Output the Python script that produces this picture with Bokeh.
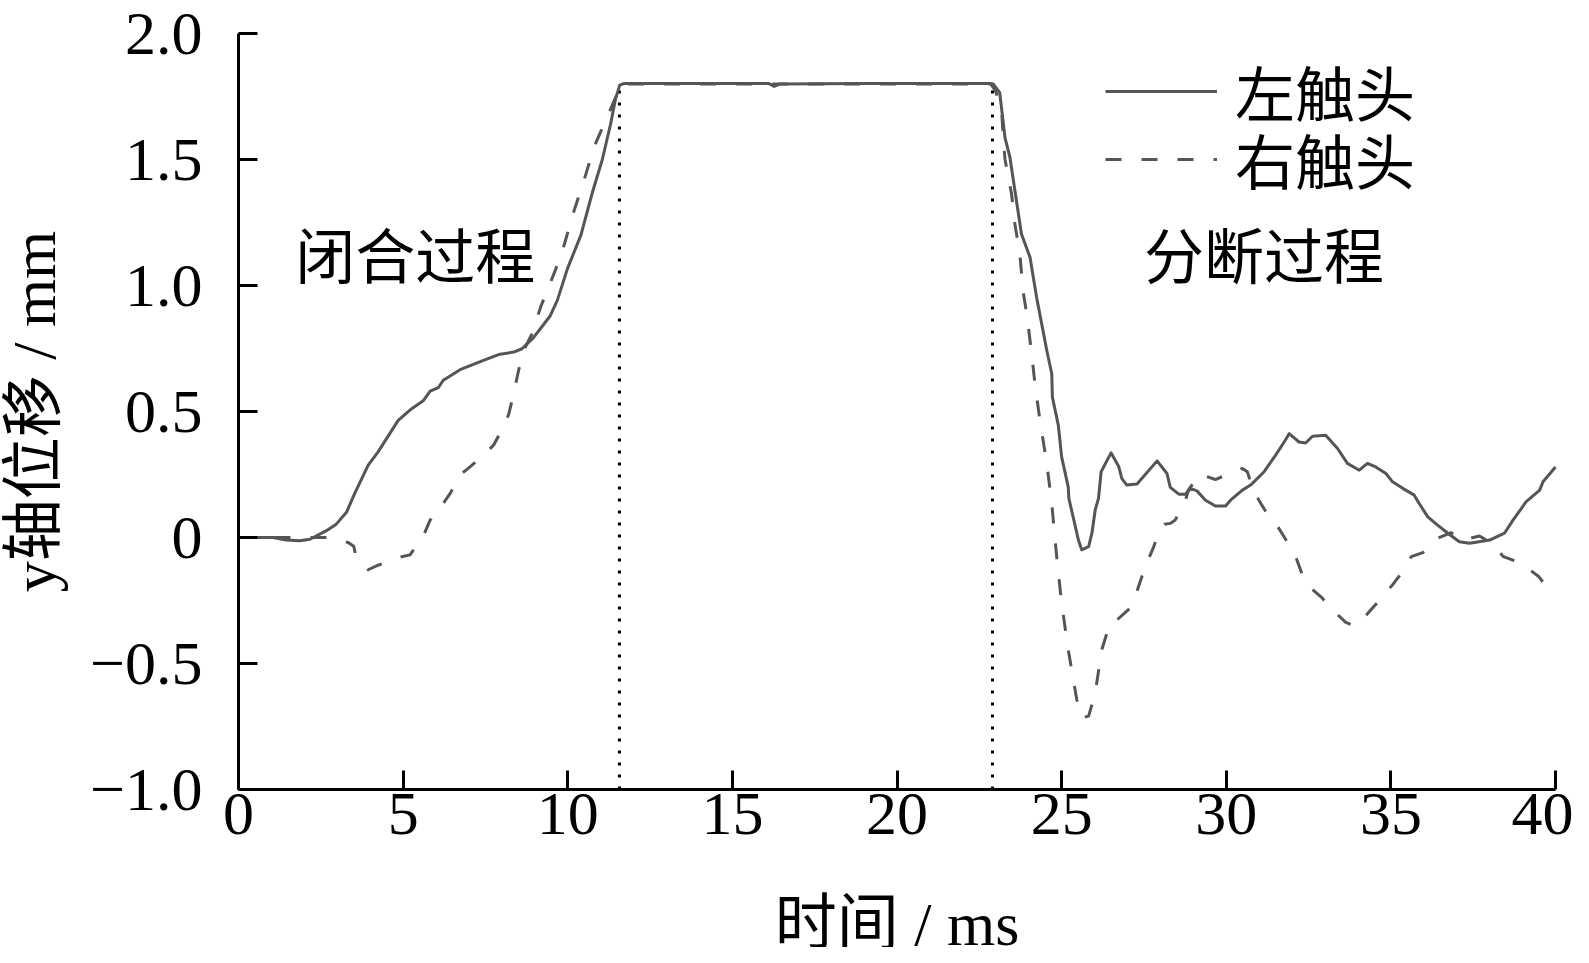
import math
from bokeh.plotting import figure
from bokeh.models import Range1d, FixedTicker, Label, Legend, LegendItem, ColumnDataSource
from bokeh.embed import file_html
from bokeh.resources import INLINE

# ---------------- data ----------------
left_t = [0.0, 1.05, 1.45, 1.86, 2.17, 2.67, 2.97, 3.28, 3.53, 3.94, 4.24, 4.85, 5.26, 5.62,
          5.82, 6.07, 6.22, 6.73, 7.44, 7.90, 8.36, 8.61, 8.96, 9.47, 9.68, 10.0, 10.4, 10.75,
          11.05, 11.3, 11.45, 11.58, 11.72, 14.0, 16.1, 16.27, 16.45, 19.0, 22.85, 22.92,
          23.12, 23.28, 23.43, 23.78, 24.04, 24.24, 24.55, 24.7, 24.72, 24.9, 25.0, 25.2, 25.22,
          25.51, 25.61, 25.82, 25.92, 26.02, 26.12, 26.2, 26.5, 26.73, 26.83, 26.98, 27.29,
          27.9, 28.2, 28.3, 28.56, 28.76, 28.91, 29.11, 29.37, 29.67, 29.98, 30.13, 30.49,
          30.74, 31.15, 31.5, 31.76, 31.91, 32.21, 32.41, 32.62, 33.02, 33.38, 33.68, 34.04,
          34.29, 34.54, 34.85, 35.05, 35.36, 35.71, 35.86, 36.12, 36.42, 36.73, 37.08, 37.39,
          38.0, 38.45, 38.71, 39.11, 39.52, 39.62, 40.0]
left_y = [0.0, 0.0, -0.01, -0.013, -0.007, 0.027, 0.053, 0.10, 0.175, 0.287, 0.34, 0.465,
          0.511, 0.544, 0.581, 0.595, 0.624, 0.666, 0.703, 0.726, 0.736, 0.749, 0.793, 0.88,
          0.94, 1.07, 1.2, 1.37, 1.50, 1.64, 1.74, 1.795, 1.802, 1.802, 1.802, 1.79, 1.80,
          1.802, 1.802, 1.80, 1.765, 1.587, 1.508, 1.204, 1.112, 0.953, 0.742, 0.65, 0.557,
          0.445, 0.32, 0.201, 0.155, -0.01, -0.049, -0.036, 0.017, 0.109, 0.155, 0.261, 0.336,
          0.283, 0.234, 0.208, 0.212, 0.304, 0.254, 0.199, 0.172, 0.172, 0.195, 0.185, 0.148,
          0.125, 0.125, 0.148, 0.188, 0.208, 0.261, 0.327, 0.379, 0.412, 0.379, 0.375, 0.402,
          0.406, 0.353, 0.294, 0.267, 0.294, 0.28, 0.254, 0.221, 0.195, 0.168, 0.135, 0.082,
          0.049, 0.017, -0.017, -0.023, -0.01, 0.017, 0.069, 0.142, 0.188, 0.221, 0.28]

right_t = [0.0, 1.0, 2.0, 2.8, 3.33, 3.5, 3.55, 3.94, 4.24, 4.91, 5.21, 5.31, 5.67, 5.82,
           6.18, 6.43, 6.73, 7.04, 7.55, 7.75, 8.05, 8.2, 8.36, 8.51, 8.67, 8.92, 9.18, 9.5,
           9.8, 10.2, 10.5, 10.8, 11.2, 11.5, 11.65, 16.0, 22.85, 23.0, 23.18, 23.23, 23.28,
           23.48, 23.58, 23.73, 23.84, 23.94, 24.09, 24.19, 24.34, 24.55, 24.7, 24.85, 25.0,
           25.2, 25.46, 25.61, 25.82, 26.02, 26.22, 26.47, 26.63, 27.13, 27.54, 27.8, 27.95,
           28.13, 28.3, 28.45, 28.76, 28.86, 29.21, 29.67, 30.23, 30.49, 30.64, 30.79, 30.99,
           31.3, 31.6, 31.91, 32.11, 32.31, 32.46, 32.92, 33.17, 33.63, 33.89, 34.04, 34.44,
           34.69, 35.05, 35.36, 35.62, 35.97, 36.42, 36.83, 37.19, 37.69, 38.0, 38.42, 38.93,
           39.49, 39.7]
right_y = [0.0, 0.0, 0.0, 0.0, -0.02, -0.035, -0.065, -0.128, -0.11, -0.078, -0.069, -0.05,
           0.023, 0.069, 0.128, 0.175, 0.248, 0.281, 0.34, 0.367, 0.44, 0.486, 0.572, 0.665,
           0.744, 0.81, 0.916, 1.02, 1.12, 1.30, 1.42, 1.55, 1.67, 1.76, 1.80, 1.80, 1.80,
           1.77, 1.692, 1.58, 1.501, 1.363, 1.244, 1.125, 0.967, 0.888, 0.729, 0.61, 0.465,
           0.294, 0.135, -0.076, -0.26, -0.445, -0.643, -0.716, -0.709, -0.617, -0.445, -0.34,
           -0.333, -0.274, -0.116, -0.036, 0.023, 0.053, 0.056, 0.069, 0.148, 0.191, 0.251,
           0.23, 0.261, 0.274, 0.261, 0.201, 0.148, 0.082, 0.036, -0.03, -0.076, -0.148,
           -0.188, -0.241, -0.28, -0.337, -0.35, -0.34, -0.28, -0.245, -0.188, -0.135, -0.076,
           -0.06, -0.003, 0.019, -0.01, 0.006, -0.017, -0.076, -0.1, -0.155, -0.19]

series_names = ["左触头", "右触头"]
x_ticks = [0, 5, 10, 15, 20, 25, 30, 35, 40]
x_axis_bounds = (0.0, 40.0)
y_ticks = [-1.0, -0.5, 0.0, 0.5, 1.0, 1.5, 2.0]
y_tick_labels = ["\u22121.0", "\u22120.5", "0", "0.5", "1.0", "1.5", "2.0"]
y_axis_bounds = (-1.0, 2.0)
phase_x = [11.57, 22.9]
phase_top = 1.8
phase_labels = ["闭合过程", "分断过程"]
phase_label_x = [5.37, 31.15]
phase_label_y = 1.105
x_title = "时间 / ms"
x_title_pos = (20.0, -1.535)
y_title = "y轴位移 / mm"
y_title_pos = (-6.2, 0.5)

# ---------------- layout / style ----------------
FONT = "'Liberation Serif', 'Noto Sans CJK SC'"
FS = "62px"
LINE_COLOR = "#555555"
FIG_W, FIG_H = 1573, 947
B_LEFT, B_RIGHT, B_TOP = 238, 18, 33          # space around the axes box, px
PX_X = (FIG_W - B_LEFT - B_RIGHT) / (x_axis_bounds[1] - x_axis_bounds[0])
PX_Y = 756 / (y_axis_bounds[1] - y_axis_bounds[0])
x_lo = x_axis_bounds[0] - B_LEFT / PX_X
x_hi = x_axis_bounds[1] + B_RIGHT / PX_X
y_hi = y_axis_bounds[1] + B_TOP / PX_Y
y_lo = y_hi - FIG_H / PX_Y

p = figure(width=FIG_W, height=FIG_H, output_backend="svg", toolbar_location=None,
           x_range=Range1d(x_lo, x_hi), y_range=Range1d(y_lo, y_hi), min_border=0)
p.outline_line_color = None
p.grid.visible = False
p.background_fill_color = "white"
p.border_fill_color = "white"

for ax in (p.xaxis[0], p.yaxis[0]):
    ax.axis_line_width = 3
    ax.axis_line_color = "black"
    ax.major_tick_line_width = 3
    ax.major_tick_line_color = "black"
    ax.major_tick_in = 19
    ax.major_tick_out = 0
    ax.minor_tick_line_color = None
    ax.major_label_text_font = FONT
    ax.major_label_text_font_size = FS
    ax.major_label_text_color = "black"

p.xaxis.ticker = FixedTicker(ticks=x_ticks)
p.xaxis.fixed_location = y_axis_bounds[0]
p.xaxis.bounds = x_axis_bounds
p.xaxis.major_label_standoff = 4
p.yaxis.ticker = FixedTicker(ticks=y_ticks)
p.yaxis.fixed_location = x_axis_bounds[0]
p.yaxis.bounds = y_axis_bounds
p.yaxis.major_label_overrides = {t: s for t, s in zip(y_ticks, y_tick_labels)}
p.yaxis.major_label_standoff = 36

# axis titles
p.add_layout(Label(x=x_title_pos[0], y=x_title_pos[1], text=x_title, text_align="center",
                   text_baseline="middle", text_font=FONT, text_font_size=FS,
                   text_color="black"))
p.add_layout(Label(x=y_title_pos[0], y=y_title_pos[1], text=y_title, text_align="center",
                   text_baseline="middle", angle=math.pi / 2, text_font=FONT,
                   text_font_size=FS, text_color="black"))

# phase boundaries (dotted)
p.segment(x0=phase_x, y0=[y_axis_bounds[0]] * len(phase_x), x1=phase_x,
          y1=[phase_top] * len(phase_x), line_color="black", line_width=3, line_dash="3 9")

src_l = ColumnDataSource(dict(t=left_t, y=left_y))
src_r = ColumnDataSource(dict(t=right_t, y=right_y))
r_right = p.line("t", "y", source=src_r, line_color=LINE_COLOR, line_width=3,
                 line_dash="16 20", line_join="round")
r_left = p.line("t", "y", source=src_l, line_color=LINE_COLOR, line_width=3, line_join="round")

for lx, txt in zip(phase_label_x, phase_labels):
    p.add_layout(Label(x=lx, y=phase_label_y, text=txt, text_align="center",
                       text_baseline="middle", text_font=FONT, text_font_size="60px",
                       text_color="black"))

legend_locs = [(1105, 813), (1105, 745)]
for name, rend, loc in zip(series_names, [r_left, r_right], legend_locs):
    p.add_layout(Legend(items=[LegendItem(label=name, renderers=[rend])],
                        location=loc, glyph_width=112, glyph_height=60, label_height=60,
                        label_standoff=18, spacing=0, padding=0, margin=0,
                        label_text_font=FONT, label_text_font_size="60px",
                        label_text_color="black", border_line_color=None,
                        background_fill_alpha=0))

open("out.html", "w").write(file_html(p, INLINE))
